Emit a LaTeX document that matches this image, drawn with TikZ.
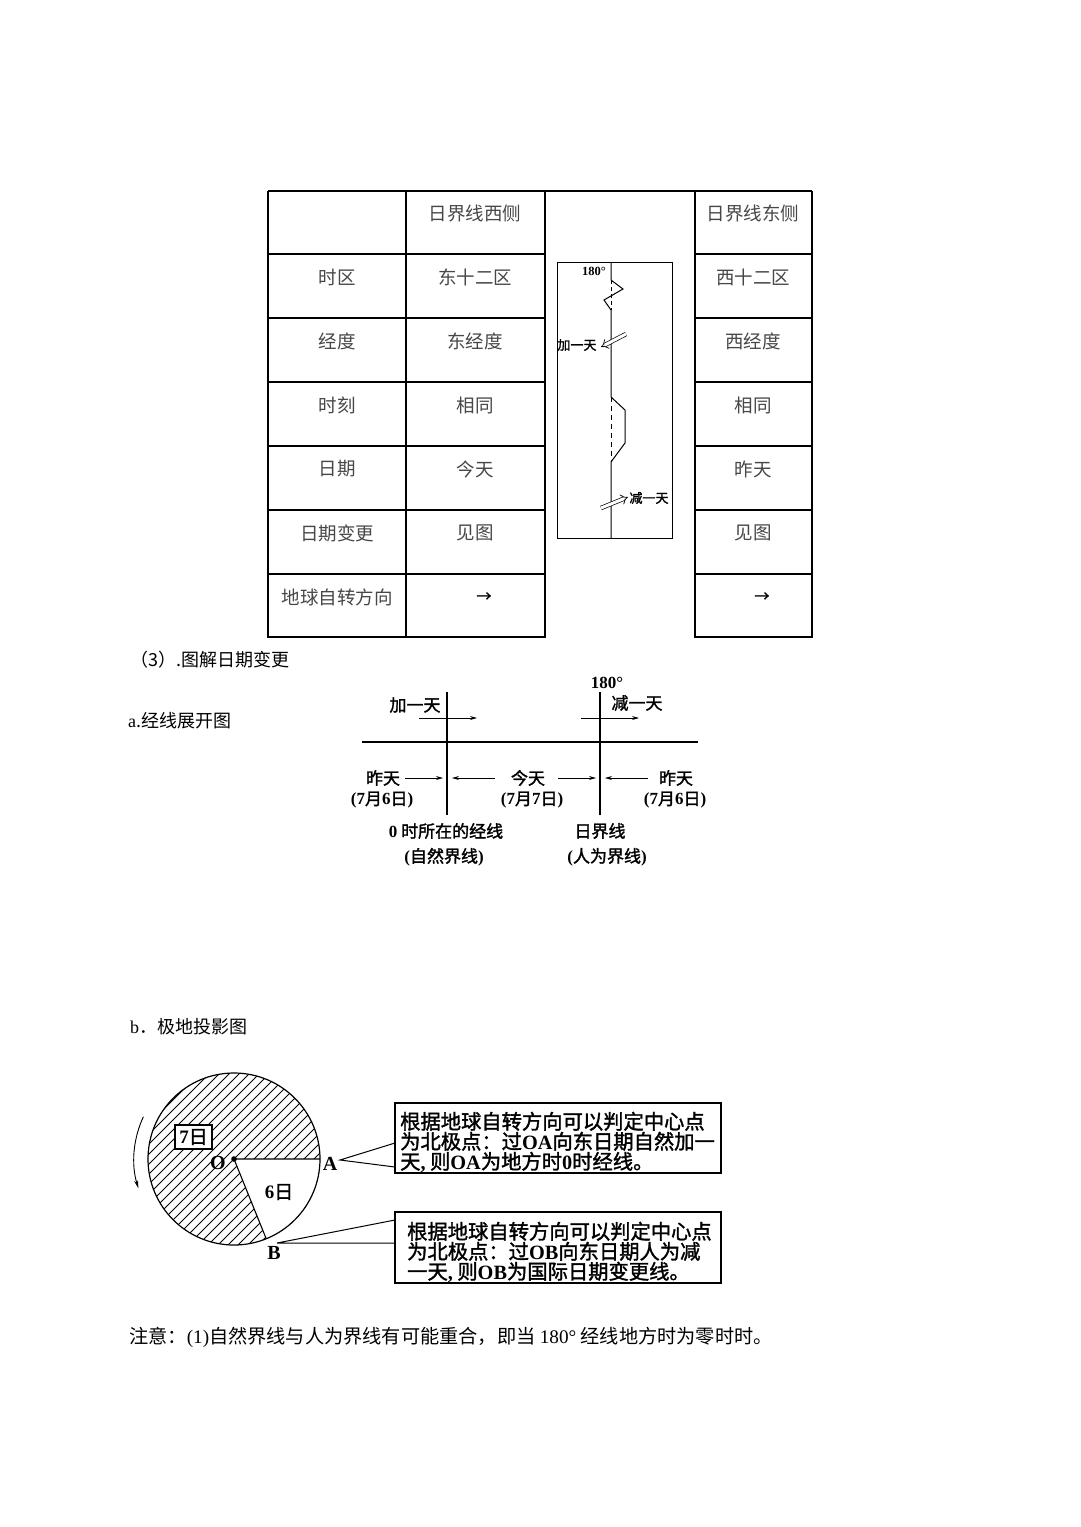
\documentclass[tikz,border=0pt]{standalone}
\usepackage{fontspec}
\setmainfont{Liberation Serif}
\newfontfamily\cjk{Noto Sans CJK SC}
\newfontfamily\cjkb[FakeBold=1.6]{Noto Sans CJK SC}
\usetikzlibrary{arrows.meta,calc}
\newcommand\Lt[1]{{\rmfamily\bfseries #1}}
\newcommand\Ln[1]{{\rmfamily #1}}
\begin{document}
\begin{tikzpicture}[x=1pt,y=-1pt,
  tbl/.style={line width=2pt},
  cell/.style={font=\cjk\fontsize{18.5}{20}\selectfont, text=black!72, inner sep=0},
  lab/.style={font=\cjkb\fontsize{17}{19}\selectfont, inner sep=0},
  small/.style={font=\cjkb\fontsize{13}{14}\selectfont, inner sep=0},
  txt/.style={font=\cjk\fontsize{18}{20}\selectfont, inner sep=0, anchor=west},
  boxt/.style={font=\cjkb\fontsize{20.3}{20}\selectfont, inner sep=0, anchor=west, align=left},
  arr/.style={line width=0.8pt, -{Stealth[length=7pt,width=4pt]}},
  thin/.style={line width=1.1pt}
]
\useasboundingbox[fill=white] (0,0) rectangle (1080,1527);

% ---------------- table ----------------
\draw[line width=1.3pt] (268,191) -- (812,191);
\foreach \y in {254,318,382,446,510,574,637}{
  \draw[tbl] (267,\y) -- (546,\y);
  \draw[tbl] (694,\y) -- (813,\y);
}
\foreach \x in {268,406,545,695,812}{
  \draw[tbl] (\x,191) -- (\x,638);
}
% headers
\node[cell] (h2) at (475,213) {日界线西侧};
\node[cell] (h4) at (753,213) {日界线东侧};
% rows
\node[cell] (r1a) at (337,277) {时区};
\node[cell] (r1b) at (475,277) {东十二区};
\node[cell] (r1c) at (753,277) {西十二区};
\node[cell] (r2a) at (337,341) {经度};
\node[cell] (r2b) at (475,341) {东经度};
\node[cell] (r2c) at (753,341) {西经度};
\node[cell] (r3a) at (337,405) {时刻};
\node[cell] (r3b) at (475,405) {相同};
\node[cell] (r3c) at (753,405) {相同};
\node[cell] (r4a) at (337,469) {日期};
\node[cell] (r4b) at (475,469) {今天};
\node[cell] (r4c) at (753,469) {昨天};
\node[cell] (r5a) at (337,533) {日期变更};
\node[cell] (r5b) at (475,533) {见图};
\node[cell] (r5c) at (753,533) {见图};
\node[cell] (r6a) at (337,597) {地球自转方向};
\node[cell, text=black, font=\cjkb\fontsize{15}{15}\selectfont] (r6b) at (484,597) {→};
\node[cell, text=black, font=\cjkb\fontsize{15}{15}\selectfont] (r6c) at (762,597) {→};

% inner figure
\draw[line width=1pt] (557,262) rectangle (672,538);
\draw[line width=1pt] (611,262) -- (611,280) -- (623,289) -- (604,300) -- (611,310)
   -- (611,397) -- (625,410) -- (625,443) -- (611,462) -- (611,538);
\draw[line width=0.8pt, dash pattern=on 4pt off 3pt] (611,280) -- (611,310);
\draw[line width=0.8pt, dash pattern=on 5pt off 4pt] (611,397) -- (611,462);
\node[font=\rmfamily\bfseries\fontsize{12.5}{12.5}\selectfont, inner sep=0] (deg) at (594,271) {180°};
\node[small] (jia) at (577,345) {加一天};
\node[small] (jian) at (649,498) {减一天};
\coordinate (ja1) at (626,334);
\coordinate (ja2) at (601,347);
\coordinate (jn1) at (601,508);
\coordinate (jn2) at (628,497);
\draw[line width=0.7pt, double, double distance=3pt, -{Implies[length=5pt]}] (ja1) -- (ja2);
\draw[line width=0.7pt, double, double distance=3pt, -{Implies[length=5pt]}] (jn1) -- (jn2);

% ---------------- section a ----------------
\node[txt] (t3) at (130,660) {（3）.图解日期变更};
\node[txt] (ta) at (128,721) {\Ln{a}.经线展开图};

\coordinate (hl1) at (362,742);
\coordinate (hl2) at (698,742);
\coordinate (vl1) at (447,692);
\coordinate (vl2) at (447,815);
\coordinate (vr1) at (600,692);
\coordinate (vr2) at (600,815);
\draw[thin] (hl1) -- (hl2);
\draw[thin] (vl1) -- (vl2);
\draw[thin] (vr1) -- (vr2);

\node[font=\rmfamily\bfseries\fontsize{17}{17}\selectfont, inner sep=0] (d180) at (607,683) {180°};
\node[lab] (ajia) at (415,705) {加一天};
\node[lab] (ajian) at (637,703) {减一天};
\coordinate (aj1) at (419,718); \coordinate (aj2) at (477,718);
\coordinate (an1) at (581,718); \coordinate (an2) at (639,718);
\draw[arr] (aj1) -- (aj2);
\draw[arr] (an1) -- (an2);

\node[lab] (zt1) at (383,778) {昨天};
\node[lab] (jt) at (528,778) {今天};
\node[lab] (zt2) at (676,778) {昨天};
\coordinate (p1) at (405,778); \coordinate (p2) at (443,778);
\coordinate (p3) at (495,778); \coordinate (p4) at (452,778);
\coordinate (p5) at (558,778); \coordinate (p6) at (596,778);
\coordinate (p7) at (648,778); \coordinate (p8) at (605,778);
\draw[arr] (p1) -- (p2);
\draw[arr] (p3) -- (p4);
\draw[arr] (p5) -- (p6);
\draw[arr] (p7) -- (p8);

\node[lab] (d1) at (382,800) {\Lt{(7}月\Lt{6}日\Lt{)}};
\node[lab] (d2) at (532,800) {\Lt{(7}月\Lt{7}日\Lt{)}};
\node[lab] (d3) at (675,800) {\Lt{(7}月\Lt{6}日\Lt{)}};

\node[lab] (zl1) at (446,831) {\Lt{0} 时所在的经线};
\node[lab] (zl2) at (444,857) {\Lt{(}自然界线\Lt{)}};
\node[lab] (rl1) at (600,831) {日界线};
\node[lab] (rl2) at (607,857) {\Lt{(}人为界线\Lt{)}};

% ---------------- section b ----------------
\node[txt] (tb) at (130,1027) {\Ln{b}．极地投影图};

\coordinate (O) at (234,1159);
\begin{scope}
  \clip (O) circle[radius=86];
  \foreach \k in {-260,-250,...,180}{
    \draw[line width=0.9pt] (234+\k-90,1259) -- (234+\k+110,1059);
  }
\end{scope}
\fill[white] (O) -- ++(0:86) arc[start angle=0, end angle=68, radius=86] -- cycle;
\draw[line width=1.2pt] (O) circle[radius=86];
\coordinate (A) at (320,1159);
\coordinate (B) at ($(O)+(68:86)$);
\draw[line width=1.1pt] (A) -- (O) -- (B);
\fill (O) circle[radius=2.8];
\draw[line width=0.9pt, -{Stealth[length=8pt,width=4pt]}] (O) ++(205:100) arc[start angle=205, end angle=163, radius=100];

\node[draw, fill=white, line width=1.1pt, inner sep=2pt, minimum width=37pt, minimum height=24pt,
  font=\cjkb\fontsize{19}{19}\selectfont] (d7) at (193.5,1137) {\Lt{7}日};
\node[font=\rmfamily\bfseries\fontsize{20}{20}\selectfont, inner sep=0] (lO) at (218,1163) {O};
\node[font=\rmfamily\bfseries\fontsize{20}{20}\selectfont, inner sep=0] (lA) at (330,1164) {A};
\node[font=\rmfamily\bfseries\fontsize{20}{20}\selectfont, inner sep=0] (lB) at (274,1253) {B};
\node[font=\cjkb\fontsize{19}{19}\selectfont, inner sep=0] (d6) at (279,1192) {\Lt{6}日};

% callout boxes
\draw[line width=1.2pt] (395,1103) rectangle (721,1173);
\draw[line width=1.2pt] (395,1212) rectangle (721,1283);
\coordinate (ta1) at (340,1160);
\coordinate (ta2) at (395,1143);
\coordinate (ta3) at (395,1167);
\draw[line width=1pt] (ta2) -- (ta1) -- (ta3);
\coordinate (tb1) at (277,1243);
\coordinate (tb2) at (395,1220);
\coordinate (tb3) at (395,1243);
\draw[line width=1pt] (tb2) -- (tb1) -- (tb3);

\node[boxt] (b1) at (400,1142) {根据地球自转方向可以判定中心点\\为北极点：过\Lt{OA}向东日期自然加一\\天\Lt{,} 则\Lt{OA}为地方时\Lt{0}时经线。};
\node[boxt] (b2) at (407,1252) {根据地球自转方向可以判定中心点\\为北极点：过\Lt{OB}向东日期人为减\\一天\Lt{,} 则\Lt{OB}为国际日期变更线。};

% note
\node[txt, font=\cjk\fontsize{19.2}{20}\selectfont] (note) at (129,1337) {注意：\Ln{(1)}自然界线与人为界线有可能重合，即当 \Ln{180°} 经线地方时为零时时。};
\end{tikzpicture}
\end{document}
